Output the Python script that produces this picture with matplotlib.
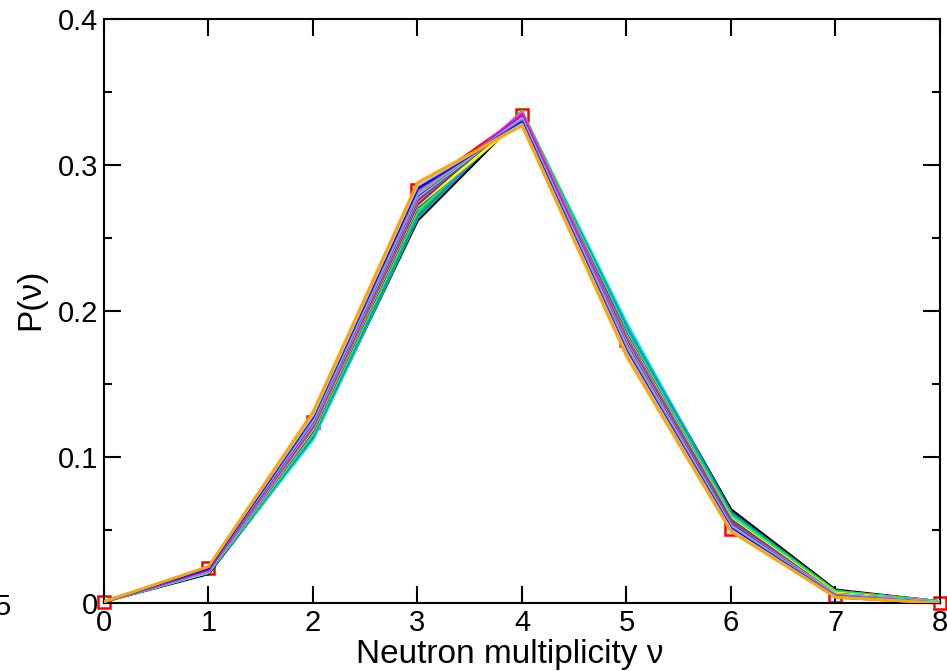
import matplotlib
matplotlib.use("Agg")
import matplotlib.pyplot as plt
from matplotlib.ticker import MultipleLocator

plt.rcParams['font.family'] = ['Liberation Sans', 'DejaVu Sans']

nu = [0, 1, 2, 3, 4, 5, 6, 7, 8]

# P(nu) curves (left-shifted ones first)
p_orange = [0.001, 0.025, 0.131, 0.288, 0.327, 0.169, 0.049, 0.004, 0.000]
p_grey = [0.001, 0.025, 0.129, 0.286, 0.328, 0.171, 0.050, 0.004, 0.000]
p_blue = [0.001, 0.024, 0.128, 0.284, 0.329, 0.172, 0.051, 0.004, 0.000]
p_slate = [0.001, 0.024, 0.127, 0.283, 0.330, 0.173, 0.051, 0.005, 0.000]
p_brown = [0.001, 0.024, 0.126, 0.281, 0.331, 0.175, 0.052, 0.005, 0.000]
p_turq = [0.001, 0.024, 0.125, 0.280, 0.332, 0.176, 0.053, 0.005, 0.001]
p_violet = [0.001, 0.023, 0.124, 0.279, 0.333, 0.177, 0.054, 0.005, 0.001]
p_sky = [0.001, 0.023, 0.123, 0.278, 0.332, 0.178, 0.054, 0.006, 0.001]
p_magenta = [0.001, 0.023, 0.122, 0.277, 0.335, 0.179, 0.055, 0.006, 0.001]
p_green4 = [0.001, 0.023, 0.121, 0.276, 0.334, 0.180, 0.056, 0.006, 0.001]
p_pink = [0.001, 0.022, 0.120, 0.275, 0.336, 0.181, 0.056, 0.006, 0.001]
p_indigo = [0.001, 0.022, 0.120, 0.273, 0.336, 0.182, 0.057, 0.006, 0.001]
p_yellow = [0.001, 0.022, 0.119, 0.272, 0.331, 0.183, 0.058, 0.007, 0.001]
p_maroon = [0.001, 0.022, 0.118, 0.271, 0.333, 0.184, 0.058, 0.007, 0.001]
p_cyan = [0.001, 0.021, 0.117, 0.270, 0.335, 0.185, 0.059, 0.007, 0.001]
p_green = [0.001, 0.021, 0.116, 0.268, 0.337, 0.186, 0.060, 0.008, 0.001]
p_blue2 = [0.001, 0.021, 0.115, 0.267, 0.334, 0.188, 0.061, 0.008, 0.001]
p_teal = [0.001, 0.021, 0.114, 0.265, 0.336, 0.189, 0.062, 0.008, 0.001]
p_cyan2 = [0.001, 0.021, 0.112, 0.264, 0.336, 0.192, 0.062, 0.008, 0.001]
p_black = [0.001, 0.020, 0.113, 0.262, 0.334, 0.190, 0.064, 0.009, 0.001]
p_red = [0.001, 0.024, 0.124, 0.283, 0.334, 0.180, 0.051, 0.005, 0.000]

series = [
    (p_black, 'black'),
    (p_cyan2, '#00e5ee'),
    (p_teal, '#00868b'),
    (p_blue2, '#1e90ff'),
    (p_green, '#00ff00'),
    (p_cyan, '#00ffff'),
    (p_maroon, '#670748'),
    (p_yellow, '#ffff00'),
    (p_indigo, '#7221bc'),
    (p_pink, '#ff69b4'),
    (p_green4, '#008b00'),
    (p_magenta, '#ff00ff'),
    (p_sky, '#87ceeb'),
    (p_violet, '#9400d3'),
    (p_turq, '#40e0d0'),
    (p_brown, '#bc8f8f'),
    (p_slate, '#6a5acd'),
    (p_blue, '#0000ff'),
    (p_grey, '#bebebe'),
    (p_orange, '#ffa500'),
]

fig = plt.figure(figsize=(9.47, 6.71), dpi=100)
ax = fig.add_axes([0.1098, 0.1013, 0.8828, 0.8703])

ax.plot(nu, p_red, color='red', lw=1.8, marker='s', ms=8,
        mfc='none', mec='red', mew=1.8, clip_on=False, zorder=2)
for vals, c in series:
    ax.plot(nu, vals, color=c, lw=2.0, zorder=3)

ax.set_xlim(0, 8)
ax.set_ylim(0, 0.4)
ax.xaxis.set_major_locator(MultipleLocator(1))
ax.yaxis.set_minor_locator(MultipleLocator(0.05))
ax.set_yticks([0, 0.1, 0.2, 0.3, 0.4])
ax.set_yticklabels(['0', '0.1', '0.2', '0.3', '0.4'])
ax.tick_params(which='both', direction='in', top=True, right=True,
               labelsize=21, width=1.5, pad=4)
ax.tick_params(which='major', length=12)
ax.tick_params(which='minor', length=6)
for s in ax.spines.values():
    s.set_linewidth(1.5)

ax.set_xlabel('Neutron multiplicity ν', fontsize=24)
ax.xaxis.set_label_coords(0.485, -0.062)
ax.set_ylabel('P(ν)', fontsize=24)
ax.yaxis.set_label_coords(-0.069, 0.52)

fig.text(0.012, 0.083, '5', fontsize=21, ha='right', va='baseline')

fig.savefig('out.png', dpi=100)
